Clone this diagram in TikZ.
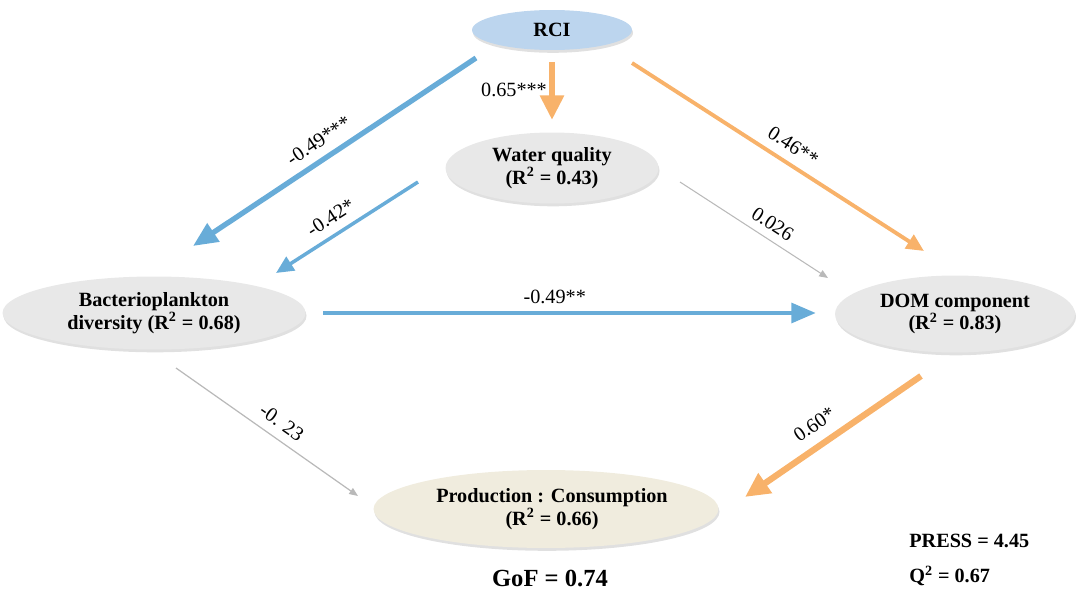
\documentclass[tikz,border=0pt]{standalone}
\usepackage{fontspec}
\setmainfont{Liberation Serif}
\usetikzlibrary{arrows.meta,shapes.geometric,shadows}
\definecolor{pblue}{RGB}{104,172,216}
\definecolor{porange}{RGB}{248,178,106}
\definecolor{pgray}{RGB}{185,185,185}
\definecolor{nblue}{RGB}{188,213,238}
\definecolor{ngray}{RGB}{232,232,232}
\definecolor{nbeige}{RGB}{240,236,222}
\tikzset{
  ell/.style={ellipse, inner sep=0pt, draw=none,
    drop shadow={opacity=0.35, shadow xshift=0.6pt, shadow yshift=-1.6pt, fill=gray!70}},
  txt/.style={font=\bfseries\fontsize{11.5}{12.8}\selectfont, align=center, inner sep=0pt},
  lab/.style={font=\fontsize{11.5}{12}\selectfont, inner sep=1pt},
  stat/.style={font=\bfseries\fontsize{11.5}{12}\selectfont, inner sep=0pt},
}
\begin{document}
\begin{tikzpicture}[x=0.02cm, y=-0.02cm]
\useasboundingbox (0,0) rectangle (1080,608);
% ellipses
\node[ell, fill=nblue, minimum width=3.2cm, minimum height=0.8cm] (rcie) at (552,30) {};
\node[ell, fill=ngray, minimum width=4.26cm, minimum height=1.42cm] (wqe) at (552,168) {};
\node[ell, fill=ngray, minimum width=6.06cm, minimum height=1.46cm] (bace) at (154,313) {};
\node[ell, fill=ngray, minimum width=4.8cm, minimum height=1.54cm] (dome) at (955,314) {};
\node[ell, fill=nbeige, minimum width=6.9cm, minimum height=1.56cm] (prode) at (546,509) {};
% texts
\node[txt] (rci) at (rcie) {RCI};
\node[txt] (wq) at (wqe) {Water quality\\(R\textsuperscript{2} = 0.43)};
\node[txt] (bac) at (154,313) {Bacterioplankton\\diversity (R\textsuperscript{2} = 0.68)};
\node[txt] (dom) at (955,314) {DOM component\\(R\textsuperscript{2} = 0.83)};
\node[txt] (prod) at (552,509) {Production : Consumption\\(R\textsuperscript{2} = 0.66)};
\node[font=\bfseries\fontsize{14}{15}\selectfont, inner sep=0pt] (gof) at (550,578) {GoF = 0.74};
\node[stat, anchor=west] (press) at (909,541) {PRESS = 4.45};
\node[stat, anchor=west] (q2) at (909,576) {Q\textsuperscript{2} = 0.67};
% arrow end points
\coordinate (a1s) at (476,58);  \coordinate (a1e) at (193,246);
\coordinate (a2s) at (418,182); \coordinate (a2e) at (276,273);
\coordinate (a3s) at (552,62);  \coordinate (a3e) at (552,120);
\coordinate (a4s) at (632,63);  \coordinate (a4e) at (924,251);
\coordinate (a5s) at (680,182); \coordinate (a5e) at (828,278);
\coordinate (a6s) at (323,313); \coordinate (a6e) at (816,313);
\coordinate (a7s) at (176,368); \coordinate (a7e) at (358,496);
\coordinate (a8s) at (921,376); \coordinate (a8e) at (745,497);
% arrows
\draw[pblue, line width=3pt, -{Triangle[length=14pt,width=12pt]}] (a1s) -- (a1e)
  node[lab, black, pos=0.52, above, sloped, yshift=4pt] {-0.49***};
\draw[pblue, line width=2pt, -{Triangle[length=10pt,width=9pt]}] (a2s) -- (a2e)
  node[lab, black, pos=0.55, above, sloped, yshift=4pt] {-0.42*};
\draw[porange, line width=3.6pt, -{Triangle[length=14pt,width=13pt]}] (a3s) -- (a3e);
\node[lab] (l3) at (514,90) {0.65***};
\draw[porange, line width=2.2pt, -{Triangle[length=10pt,width=9pt]}] (a4s) -- (a4e)
  node[lab, black, pos=0.52, above, sloped, yshift=4pt] {0.46**};
\draw[pgray, line width=0.6pt, -{Triangle[length=5pt,width=4pt]}] (a5s) -- (a5e)
  node[lab, black, pos=0.57, above, sloped, yshift=3.5pt] {0.026};
\draw[pblue, line width=2.8pt, -{Triangle[length=14pt,width=11pt]}] (a6s) -- (a6e)
  node[lab, black, pos=0.47, above, yshift=3pt] {-0.49**};
\draw[pgray, line width=0.7pt, -{Triangle[length=5pt,width=4pt]}] (a7s) -- (a7e)
  node[lab, black, pos=0.53, above, sloped, yshift=4pt] {-0. 23};
\draw[porange, line width=3.6pt, -{Triangle[length=14pt,width=13pt]}] (a8s) -- (a8e)
  node[lab, black, pos=0.54, above, sloped, yshift=5pt] {0.60*};
\end{tikzpicture}
\end{document}
